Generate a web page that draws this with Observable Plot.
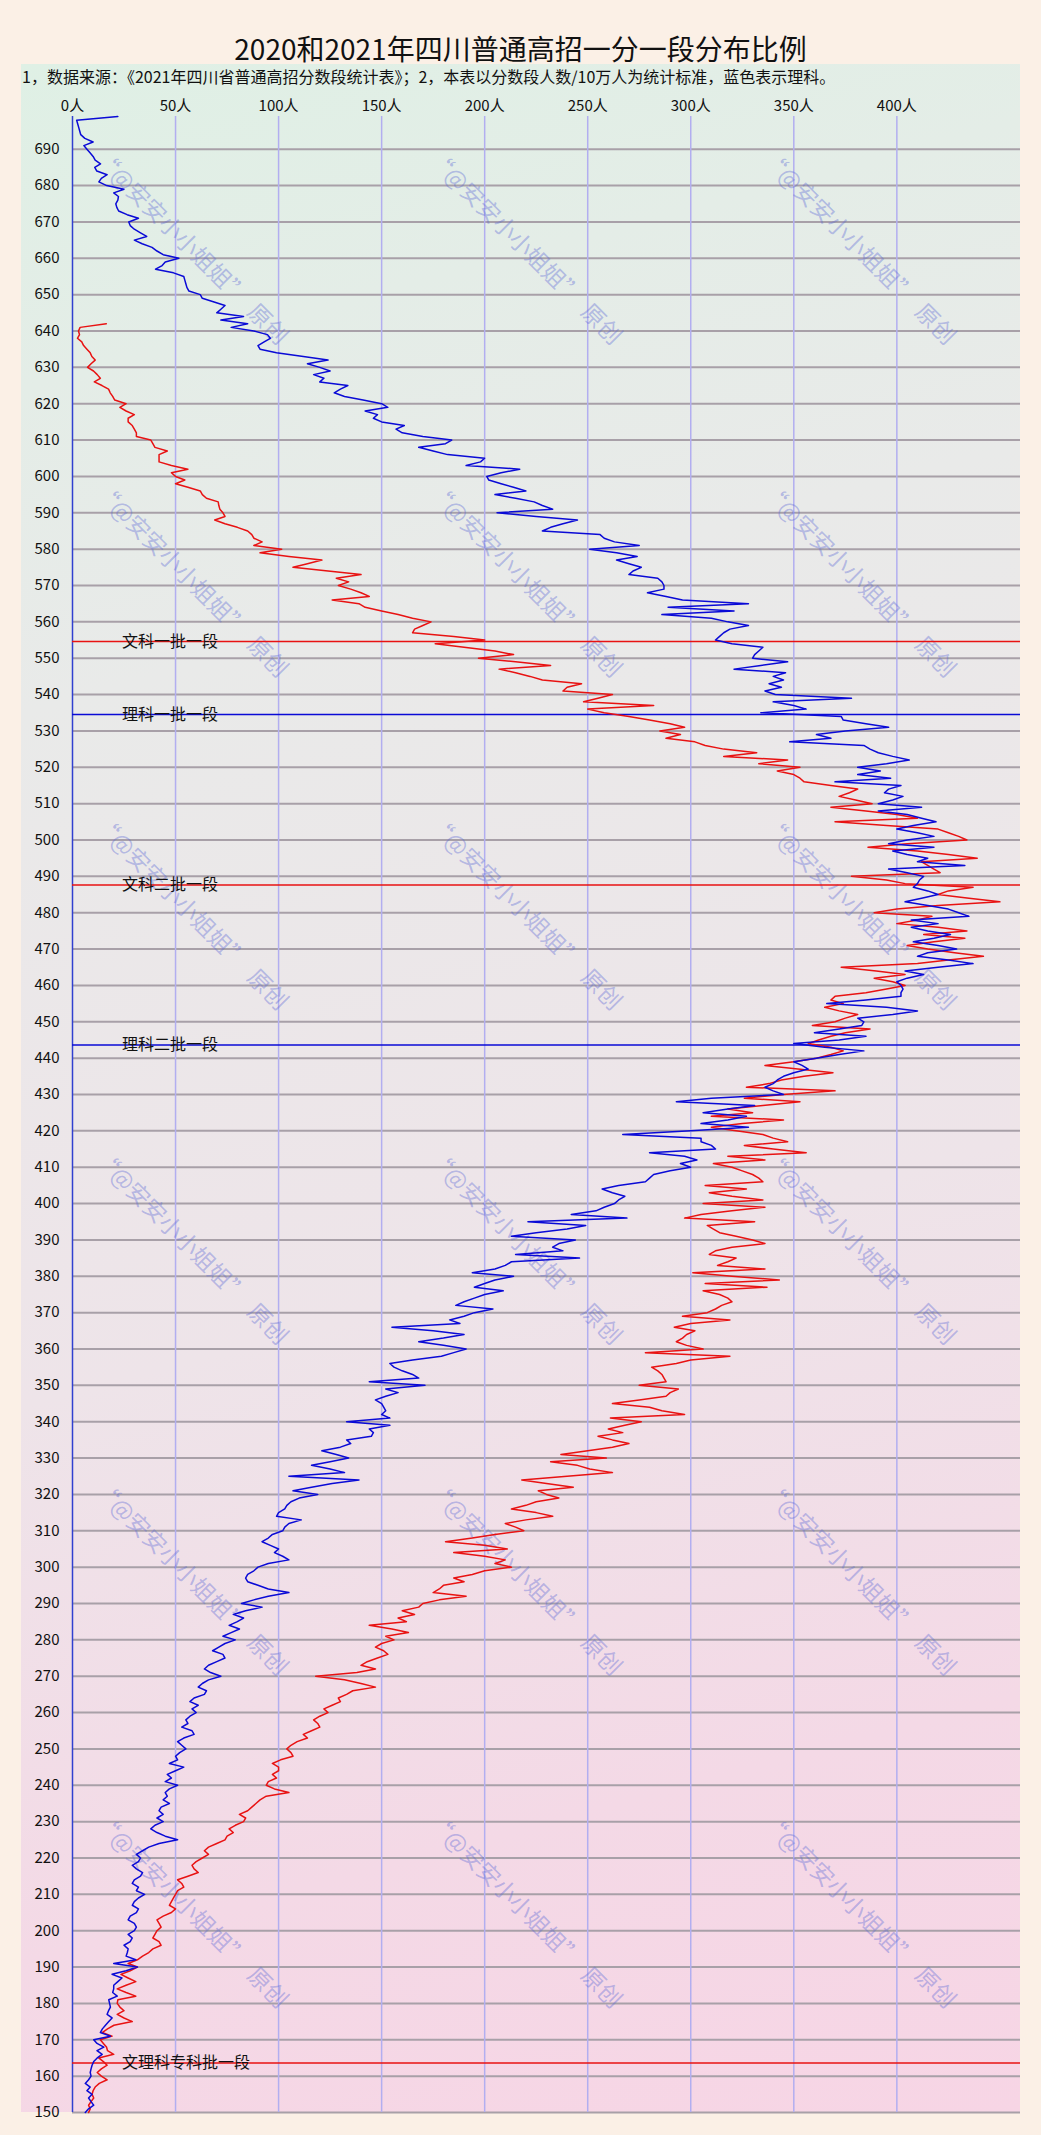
<!DOCTYPE html>
<html>
<head>
<meta charset="utf-8">
<script src="https://cdn.jsdelivr.net/npm/d3@7"></script>
<script src="https://cdn.jsdelivr.net/npm/@observablehq/plot@0.6"></script>
<style>
  html, body { margin: 0; padding: 0; background: #fbf0e6; }
  #wrap { position: relative; width: 1041px; height: 2135px; overflow: hidden; }
  #title { position: absolute; left: 0; top: 30px; width: 1041px; height: 36px; line-height: 36px;
           text-align: center; font-size: 28px; color: #111;
           font-family: "Liberation Sans Narrow", "Noto Sans CJK SC", sans-serif; }
  #panel { position: absolute; left: 21px; top: 64px; width: 999px; height: 2048px;
           background: linear-gradient(165deg, #dff0e5 0%, #e9eae9 28%, #eee4e9 58%, #f4d9e6 82%, #f7d5e5 100%); }
  #sub { position: absolute; left: 22px; top: 66px; font-size: 16px; line-height: 20px; color: #111; white-space: nowrap;
         font-family: "Liberation Sans Narrow", "Noto Sans CJK SC", sans-serif; }
  #chart { position: absolute; left: 0; top: 64px; }
</style>
</head>
<body>
<div id="wrap">
  <div id="title"></div>
  <div id="panel"></div>
  <div id="sub"></div>
  <div id="chart"></div>
</div>
<script>
const titleText = "2020和2021年四川普通高招一分一段分布比例";
const subText = "1，数据来源：《2021年四川省普通高招分数段统计表》；2，本表以分数段人数/10万人为统计标准，蓝色表示理科。";

// x axis ticks (人 per 10万人) and y axis ticks (score)
const xTicks = [0, 50, 100, 150, 200, 250, 300, 350, 400];
const yTicks = [150,160,170,180,190,200,210,220,230,240,250,260,270,280,290,300,310,320,330,340,350,360,370,380,390,400,410,420,430,440,450,460,470,480,490,500,510,520,530,540,550,560,570,580,590,600,610,620,630,640,650,660,670,680,690];

// 理科 (blue): one value per score, from 699 down to 150
const liTop = 699;
const liValues = [
  22, 2, 2.5, 3, 3.5, 4, 6, 10, 5.5, 7,
  8.5, 10, 11, 13.6, 10.8, 11.8, 16.8, 14, 12.8, 16.6,
  25, 20, 22.3, 22, 21, 21.5, 22.4, 26.5, 32, 27.3,
  28, 30, 33, 36, 30, 33.8, 38.6, 41, 44, 51.6,
  45, 43.5, 40.3, 49, 54, 54.5, 55, 55.5, 56.5, 62,
  63, 68.7, 74, 72, 70, 83, 72, 85, 77, 88,
  94.6, 96, 93, 90, 91, 99, 112, 124, 114, 120,
  125, 117, 122, 120, 133.6, 130, 127, 132, 141, 150,
  153, 142, 148, 146, 150, 161, 157, 160, 170, 184,
  181, 168, 175, 182, 200, 198, 191, 217, 208, 201,
  202, 208, 214, 220, 205, 215, 224, 228, 233, 206,
  225, 245, 238, 232, 228, 256, 258, 263, 275, 251,
  264, 274, 264, 270, 276, 272, 270, 284, 286, 287,
  287, 279, 288, 296, 328, 289, 321, 286, 310, 318,
  328, 319, 316, 314, 312, 320, 335, 333, 331, 330,
  347, 334, 321, 346, 340, 345, 338, 344, 336, 341,
  378, 340, 350, 356, 334, 373, 374, 385, 396, 375,
  361, 368, 348, 384, 387, 391, 398, 406, 395, 381,
  392, 381, 397, 370, 402, 396, 394, 403, 398, 391,
  412, 391, 405, 412, 419, 408, 400, 410, 418, 405,
  396, 418, 398, 405, 415, 410, 433, 396, 405, 413,
  411, 410, 408, 415, 420, 412, 404, 415, 425, 430,
  435, 407, 420, 407, 415, 426, 418, 408, 420, 429,
  415, 410, 425, 437, 420, 404, 413, 405, 400, 402,
  403, 402, 402, 385, 366, 395, 410, 398, 381, 384,
  383, 372, 360, 385, 372, 350, 365, 384, 372, 361,
  350, 354, 357, 350, 345, 342, 340, 336, 340, 345,
  310, 293, 331, 318, 306, 327, 318, 305, 328, 300,
  267, 305, 305, 310, 312, 280, 297, 303, 295, 300,
  290, 282, 280, 278, 265, 257, 262, 268, 265, 263,
  258, 254, 242, 269, 221, 249, 240, 225, 213, 244,
  236, 233, 238, 215, 246, 213, 210, 205, 194, 214,
  205, 200, 195, 209, 200, 195, 190, 186, 204, 195,
  190, 183, 188, 155, 175, 190, 180, 168, 180, 191,
  185, 179, 165, 154, 156, 160, 165, 168, 144, 171,
  152, 158, 152, 147, 150, 151, 152, 150, 154, 133,
  154, 144, 146, 145, 133, 135, 130, 121, 128, 134,
  125, 116, 125, 132, 105, 139, 126, 116, 107, 119,
  110, 106, 104, 103, 100, 99, 111, 105, 103, 102,
  97, 95, 92, 96, 100, 98, 102, 105, 95, 90,
  88, 85, 84, 85, 90, 95, 105, 95, 88, 82,
  92, 84, 78, 83, 80, 76, 81, 77, 73, 79,
  74, 71, 68, 73, 74, 70, 66, 64, 67, 72,
  66, 63, 61, 65, 64, 59, 57, 61, 58, 60,
  57, 55, 56, 53, 58, 59, 54, 51, 53, 55,
  52, 50, 51, 47, 54, 50, 46, 48, 45, 51,
  47, 45, 46, 44, 47, 43, 42, 44, 41, 44,
  40, 38, 41, 45, 51, 42, 37, 34, 31, 33,
  32, 29, 31, 34, 33, 30, 29, 32, 31, 35,
  32, 30, 29, 32, 31, 28, 27, 30, 31, 30,
  27, 29, 28, 25, 27, 26.6, 26, 30.7, 20, 31.5,
  26, 19.2, 24, 22, 20, 20, 19.5, 21.7, 17.6, 18,
  18.4, 17.5, 16.8, 19.2, 17.6, 16, 14.5, 13.5, 18.4, 10.3,
  11.9, 15.2, 11.9, 14.4, 12, 10.3, 9.5, 9, 8.6, 9,
  7.8, 6.2, 8.6, 7, 9.5, 7.8, 9, 10.3, 7.8, 6.2
];

// 文科 (red): one value per score, from 642 down to 150
const wenTop = 642;
const wenValues = [
  16.4, 3.7, 2.9,
  3.4, 2.4, 4.5, 5.4, 7, 8.6, 9.4, 11, 9, 7.3,
  10.2, 12, 13.5, 10.6, 14.3, 17.5, 18.3, 19.5, 20.5, 26,
  23, 26, 30, 27, 27, 29, 30, 31, 31, 38,
  39, 40, 46, 42, 42, 42, 48, 56, 48, 50,
  54.5, 50, 56, 62, 63, 65, 70.7, 71, 71.5, 73,
  74, 69, 74, 80, 85, 87, 88, 92, 88, 101.5,
  91, 105, 121, 114, 107, 124, 140, 128, 134, 129,
  135, 140, 144, 126, 139, 142, 150, 158, 165, 174,
  170, 166, 165, 185, 200, 176, 190, 205, 214, 197,
  215, 232, 207, 215, 222, 228, 247, 240, 238, 262,
  255, 248, 282, 250, 258, 270, 280, 290, 297, 285,
  295, 288, 302, 307, 316, 332, 316, 347, 333, 353,
  342, 350, 353, 355, 368, 381, 377, 372, 380, 388,
  368, 385, 400, 410, 370, 395, 420, 425, 430, 434,
  405, 386, 410, 425, 439, 412, 415, 418, 421, 378,
  395, 404, 437, 425, 420, 435, 450, 420, 400, 389,
  417, 410, 400, 420, 434, 413, 433, 418, 405, 415,
  428, 442, 425, 410, 373, 390, 404, 389, 398, 404,
  395, 385, 370, 368, 374, 365, 372, 381, 375, 370,
  359, 387, 375, 368, 362, 357, 368, 374, 368, 361,
  350, 336, 352, 369, 355, 344, 338, 327, 370, 345,
  326, 353, 335, 318, 330, 310, 345, 325, 310, 322,
  335, 340, 347, 326, 340, 356, 318, 336, 311, 320,
  325, 330, 333, 335, 307, 327, 309, 320, 335, 306,
  336, 320, 305, 297, 331, 308, 311, 314, 322, 330,
  336, 320, 312, 309, 322, 318, 313, 336, 301, 320,
  343, 307, 337, 306, 314, 318, 320, 315, 312, 308,
  296, 319, 300, 292, 302, 298, 296, 293, 298, 306,
  278, 319, 300, 293, 281, 284, 286, 287, 288, 275,
  294, 290, 288, 275, 262, 280, 286, 297, 261, 276,
  268, 260, 267, 255, 262, 270, 262, 250, 237, 259,
  232, 245, 251, 262, 240, 218, 230, 243, 226, 230,
  236, 225, 220, 213, 225, 233, 220, 210, 215, 219,
  205, 194, 181, 200, 211, 185, 200, 210, 205, 213,
  200, 194, 185, 190, 180, 178, 175, 191, 178, 170,
  168, 160, 166, 158, 162, 144, 155, 163, 152, 156,
  150, 147, 151, 153, 148, 143, 140, 147, 138, 118,
  132, 140, 147, 136, 133, 129, 130, 126, 122, 124,
  120, 117, 119, 120, 116, 112, 114, 109, 106, 104,
  106, 107, 101, 97, 100, 100, 97, 99, 95, 94,
  98, 105, 94, 91, 89, 87, 85, 81, 84, 83,
  79, 76, 78, 75, 74, 70, 66, 64, 66, 63,
  60, 58, 59, 61, 56, 51, 53, 54, 51, 50,
  49, 48, 47, 50, 48, 44, 41, 42, 43, 41,
  40, 39, 42, 43, 39, 37, 34, 31.5, 27, 31.5,
  28, 23.5, 27, 30.7, 26, 21.7, 26, 30.7, 22, 21.7,
  23, 25, 21.7, 25, 29, 20.1, 17, 14.4, 19.2, 13.5,
  15, 16.5, 17, 20, 12.7, 15, 16.8, 14, 12, 14,
  16.8, 13, 11, 10, 9.5, 10.3, 9, 7.8, 8.6, 7.8
];

// batch cut-off reference lines
const refNames = ["文科一批一段", "理科一批一段", "文科二批一段", "理科二批一段", "文理科专科批一段"];
const refScores = [554.6, 534.5, 487.6, 443.6, 163.6];
const refKinds = ["文", "理", "文", "理", "文"];

// watermark grid (data coords)
const wmX = [15.5, 177.5, 339.5];
const wmY = [690, 598.5, 507, 415, 324, 232.5];
const wmText = "“@安安小小姐姐”  原创";

const BLUE = "#0a0ad6", RED = "#e81212";
const FONT = "'Liberation Sans Narrow', 'Noto Sans CJK SC', sans-serif";

document.getElementById("title").textContent = titleText;
document.getElementById("sub").textContent = subText;

const li = liValues.map((n, i) => ({score: liTop - i, n}));
const wen = wenValues.map((n, i) => ({score: wenTop - i, n}));
const refs = refNames.map((name, i) => ({name, score: refScores[i], color: refKinds[i] === "文" ? RED : BLUE}));
const marks = [];
wmY.forEach(y => wmX.forEach(x => marks.push({x, y})));

const chart = Plot.plot({
  width: 1041,
  height: 2071,
  marginLeft: 72,
  marginRight: 21,
  marginTop: 52,
  marginBottom: 23,
  style: {background: "transparent", fontFamily: FONT, fontSize: "15px", color: "#111", overflow: "visible"},
  x: {domain: [0, 460]},
  y: {domain: [150, 699]},
  marks: [
    Plot.ruleY(yTicks, {stroke: "#a8a0a8", strokeWidth: 2}),
    Plot.ruleX(xTicks.filter(d => d > 0), {stroke: "#b2aef0", strokeWidth: 1.5}),
    Plot.ruleX([0], {stroke: "#3040d0", strokeWidth: 1.5}),
    Plot.text(marks, {x: "x", y: "y", text: () => wmText, rotate: 45, textAnchor: "start", lineAnchor: "top",
      fontSize: 23, fill: "#5f6bd6", fillOpacity: 0.4, fontFamily: "'Noto Sans CJK SC', sans-serif"}),
    Plot.ruleY(refs, {y: "score", stroke: "color", strokeWidth: 1.5}),
    Plot.text(refs, {x: () => 24, y: "score", text: "name", textAnchor: "start", lineAnchor: "middle",
      fontSize: 16, fill: "#111", fontFamily: "'Noto Sans CJK SC', sans-serif"}),
    Plot.line(wen, {x: "n", y: "score", stroke: RED, strokeWidth: 1.5}),
    Plot.line(li, {x: "n", y: "score", stroke: BLUE, strokeWidth: 1.5}),
    Plot.axisX(xTicks, {anchor: "top", tickSize: 0, tickPadding: 6, tickFormat: d => d + "人", label: null, fontSize: 15}),
    Plot.axisY(yTicks, {anchor: "left", tickSize: 0, tickPadding: 13, label: null, fontSize: 15})
  ]
});
document.getElementById("chart").appendChild(chart);
</script>
</body>
</html>
